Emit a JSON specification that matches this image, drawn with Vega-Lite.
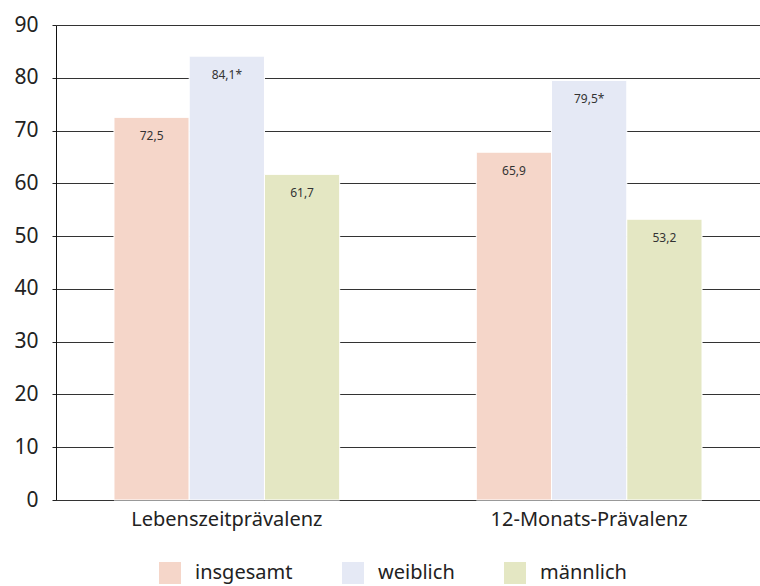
{
  "$schema": "https://vega.github.io/schema/vega-lite/v6.json",
  "width": 704,
  "height": 475,
  "autosize": {"type": "none"},
  "padding": {"left": 56, "top": 25, "right": 0, "bottom": 86},
  "background": "white",
  "config": {
    "font": "Noto Sans",
    "view": {"stroke": null}
  },
  "data": {
    "values": [
      {"kategorie": "Lebenszeitprävalenz", "gruppe": "insgesamt", "wert": 72.5, "label": "72,5"},
      {"kategorie": "Lebenszeitprävalenz", "gruppe": "weiblich", "wert": 84.1, "label": "84,1*"},
      {"kategorie": "Lebenszeitprävalenz", "gruppe": "männlich", "wert": 61.7, "label": "61,7"},
      {"kategorie": "12-Monats-Prävalenz", "gruppe": "insgesamt", "wert": 65.9, "label": "65,9"},
      {"kategorie": "12-Monats-Prävalenz", "gruppe": "weiblich", "wert": 79.5, "label": "79,5*"},
      {"kategorie": "12-Monats-Prävalenz", "gruppe": "männlich", "wert": 53.2, "label": "53,2"}
    ]
  },
  "encoding": {
    "x": {
      "field": "kategorie",
      "type": "nominal",
      "sort": ["Lebenszeitprävalenz", "12-Monats-Prävalenz"],
      "scale": {"paddingInner": 0.377, "paddingOuter": 0.16},
      "axis": {
        "title": null,
        "labelAngle": 0,
        "labelFontSize": 20,
        "labelLimit": 400,
        "labelColor": "#222",
        "labelPadding": 9,
        "ticks": false,
        "domainColor": "#333",
        "domainWidth": 1
      }
    },
    "xOffset": {
      "field": "gruppe",
      "type": "nominal",
      "sort": ["insgesamt", "weiblich", "männlich"]
    },
    "y": {
      "field": "wert",
      "type": "quantitative",
      "scale": {"domain": [0, 90], "nice": false},
      "axis": {
        "title": null,
        "values": [0, 10, 20, 30, 40, 50, 60, 70, 80, 90],
        "labelFontSize": 21,
        "labelColor": "#222",
        "labelPadding": 14,
        "tickSize": 4,
        "tickColor": "#222",
        "domainColor": "#111",
        "grid": true,
        "gridColor": "#333",
        "gridWidth": 1
      }
    }
  },
  "layer": [
    {
      "mark": {"type": "bar", "stroke": "white", "strokeWidth": 1},
      "encoding": {
        "color": {
          "field": "gruppe",
          "type": "nominal",
          "sort": ["insgesamt", "weiblich", "männlich"],
          "scale": {
            "domain": ["insgesamt", "weiblich", "männlich"],
            "range": ["#f5d6c9", "#e5e9f5", "#e4e7c3"]
          },
          "legend": {
            "title": null,
            "orient": "none",
            "legendX": 103,
            "legendY": 537,
            "direction": "horizontal",
            "symbolType": "square",
            "symbolSize": 484,
            "symbolStrokeWidth": 0,
            "labelFontSize": 20,
            "labelColor": "#222",
            "labelOffset": 14,
            "columnPadding": 49
          }
        }
      }
    },
    {
      "mark": {"type": "text", "baseline": "top", "dy": 14, "fontSize": 12, "color": "#333"},
      "encoding": {
        "text": {"field": "label"}
      }
    }
  ]
}
